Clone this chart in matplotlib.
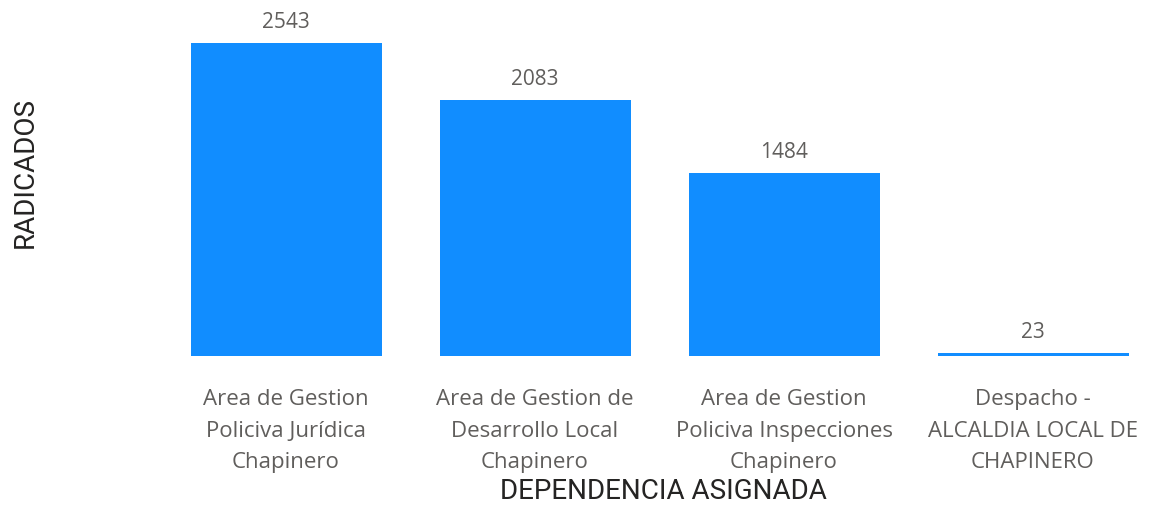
import matplotlib
matplotlib.use("Agg")
import matplotlib.pyplot as plt

# ── data ────────────────────────────────────────────────────────────
categories = [
    "Area de Gestion\nPoliciva Jurídica\nChapinero",
    "Area de Gestion de\nDesarrollo Local\nChapinero",
    "Area de Gestion\nPoliciva Inspecciones\nChapinero",
    "Despacho -\nALCALDIA LOCAL DE\nCHAPINERO",
]
radicados = [2543, 2083, 1484, 23]

BAR = "#118DFF"
GREY = "#605E5C"
DARK = "#252423"

W, H = 1151, 506
fig = plt.figure(figsize=(W / 100, H / 100), dpi=100)

# plot area in pixels (from the reference): x 161.5 → right edge, y 0 → 357
left_px, bottom_px, top_px = 161.5, 357, 0
step_px = 249
ax = fig.add_axes([left_px / W, (H - bottom_px) / H,
                   (W - left_px) / W, (bottom_px - top_px) / H])
ax.set_xlim(-0.5, -0.5 + (W - left_px) / step_px)
ax.set_ylim(0, radicados[0] * bottom_px / (bottom_px - 44))

x = range(len(categories))
ax.bar(x, radicados, width=191 / step_px, color=BAR)

for xi, v in zip(x, radicados):
    ax.annotate(f"{v}", (xi, v), xytext=(0, 8), textcoords="offset points",
                ha="center", va="bottom", fontsize=15, color=GREY,
                family="Open Sans")

ax.set_xticks(list(x))
ax.set_xticklabels(categories, fontsize=16, color=GREY, family="Open Sans",
                   linespacing=1.66)
ax.tick_params(axis="x", length=0, pad=23)
ax.set_yticks([])
for s in ax.spines.values():
    s.set_visible(False)

fig.text(663 / W, 1 - 492 / H, "DEPENDENCIA ASIGNADA", ha="center",
         va="center", fontsize=20, color=DARK, family="Roboto")
fig.text(25 / W, 1 - 172 / H, "RADICADOS", ha="center", va="center",
         rotation=90, fontsize=20, color=DARK, family="Roboto")

fig.savefig("out.png", dpi=100)
